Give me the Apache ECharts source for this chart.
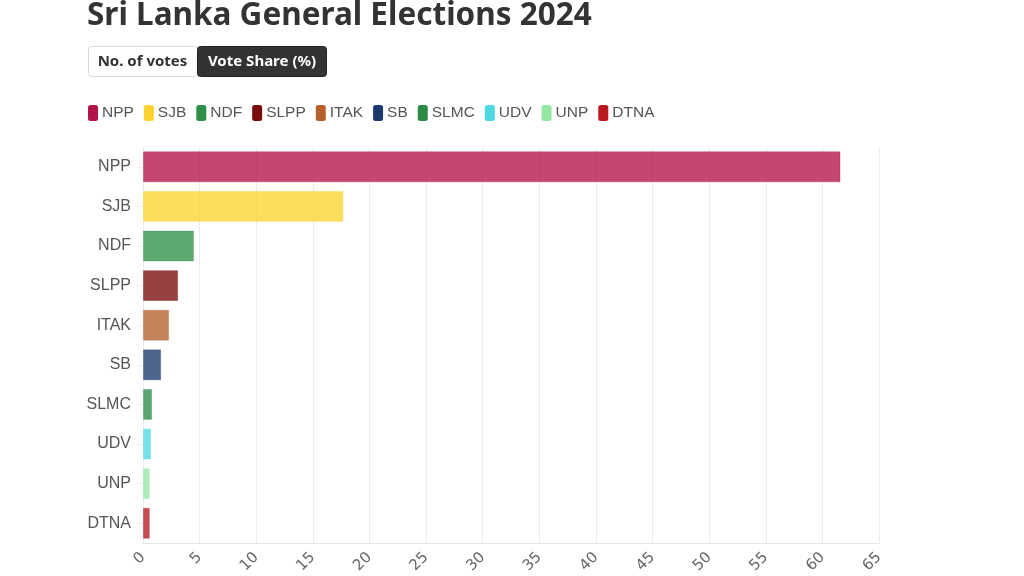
<!DOCTYPE html>
<html><head><meta charset="utf-8">
<script src="https://cdn.jsdelivr.net/npm/echarts@6/dist/echarts.min.js"></script>
<style>html,body{margin:0;padding:0;background:#fff}#c{width:1024px;height:576px}</style>
</head><body><div id="c"></div>
<script>
const categories = ['NPP','SJB','NDF','SLPP','ITAK','SB','SLMC','UDV','UNP','DTNA'];
const voteShare = [61.6, 17.7, 4.5, 3.1, 2.3, 1.6, 0.8, 0.7, 0.6, 0.6];
const partyColors = ['#b3134b','#fcd32e','#2f9149','#7b0c0d','#b5602b','#1c3a6c','#2e8b47','#4ed9e2','#93e8a2','#b9191e'];
const xTicks = {min: 0, max: 65, interval: 5};
const title = 'Sri Lanka General Elections 2024';
const buttons = ['No. of votes', 'Vote Share (%)'];

function hexToRgba(h, a){
  const n = parseInt(h.slice(1),16);
  return `rgba(${(n>>16)&255},${(n>>8)&255},${n&255},${a})`;
}

const chart = echarts.init(document.getElementById('c'), null, {renderer:'canvas'});
const series = categories.map((name,i)=>({
  name, type:'bar', stack:'all', barWidth:'78%',
  data: voteShare.map((v,j)=> j===i ? v : null),
  itemStyle:{color: hexToRgba(partyColors[i],0.78), borderColor: hexToRgba(partyColors[i],0.35), borderWidth:1},
  emphasis:{disabled:true}
}));

chart.setOption({
  animation:false,
  title:{text:title, left:82, top:-5, textStyle:{fontFamily:'Noto Sans', fontWeight:'bold', fontSize:31.5, color:'#333'}},
  graphic:[
    {type:'rect', shape:{x:88.5,y:46.5,width:109,height:30,r:3}, style:{fill:'#fff', stroke:'#d9d9d9', lineWidth:1}},
    {type:'text', x:142.5, y:61.5, style:{text:buttons[0], align:'center', verticalAlign:'middle', font:'bold 15px "Noto Sans"', fill:'#333'}},
    {type:'rect', shape:{x:197.5,y:46.5,width:129,height:30,r:3}, style:{fill:'#333', stroke:'#222', lineWidth:1}},
    {type:'text', x:262, y:61.5, style:{text:buttons[1], align:'center', verticalAlign:'middle', font:'bold 15px "Noto Sans"', fill:'#fff'}}
  ],
  legend:{
    left:83, top:100, icon:'roundRect', itemWidth:10, itemHeight:16, itemGap:10,
    textStyle:{fontFamily:'Liberation Sans', fontSize:15.5, color:'#555', padding:[0,0,0,-1]},
    data: categories.map((n,i)=>({name:n, itemStyle:{color:partyColors[i], borderWidth:0}}))
  },
  grid:{left:143, right:145, top:147, bottom:32, containLabel:false},
  xAxis:{type:'value', min:xTicks.min, max:xTicks.max, interval:xTicks.interval,
    axisLine:{show:true, lineStyle:{color:'#e6e6e6'}}, axisTick:{show:false},
    splitLine:{lineStyle:{color:'#ececec'}},
    axisLabel:{rotate:45, color:'#666', fontFamily:'DejaVu Sans', fontSize:15, margin:12}},
  yAxis:{type:'category', data:categories, inverse:true,
    axisLine:{show:false}, axisTick:{show:true, length:6, lineStyle:{color:'#eee'}, alignWithLabel:true},
    axisLabel:{color:'#555', fontFamily:'Liberation Sans', fontSize:16, margin:12}},
  series
});
</script></body></html>
